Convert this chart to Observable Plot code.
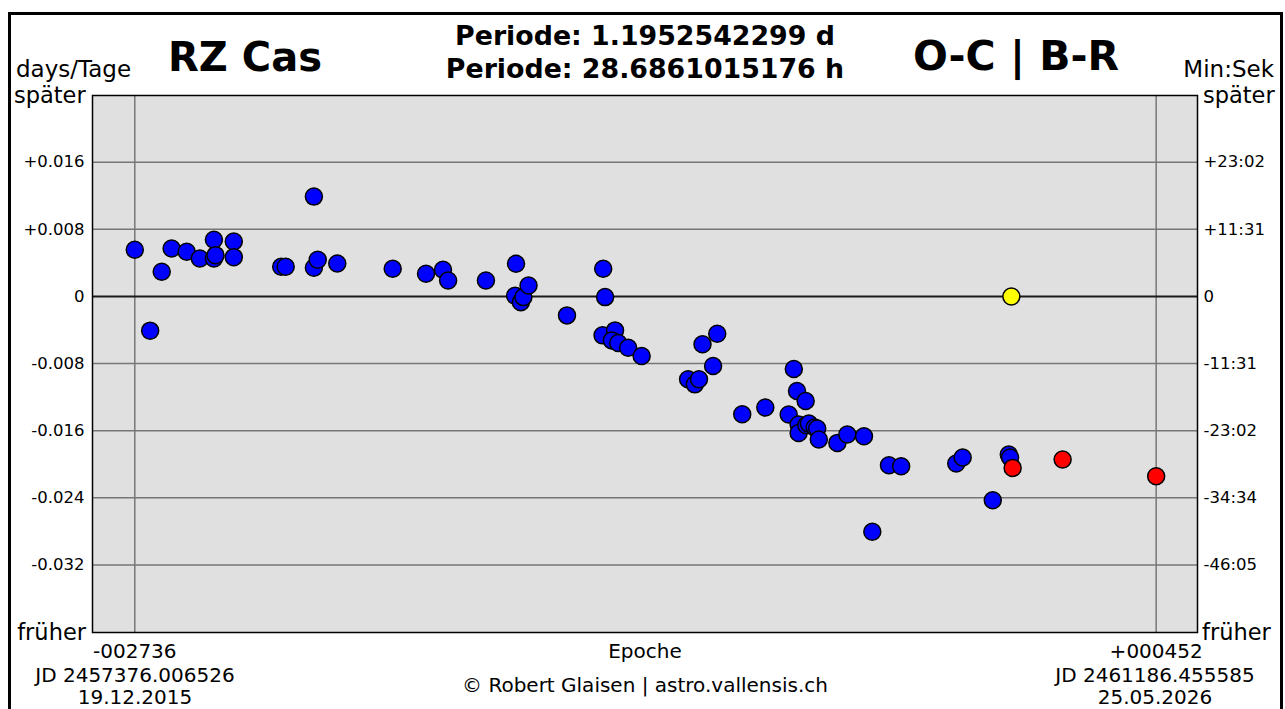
<!DOCTYPE html>
<html>
<head>
<meta charset="utf-8">
<script src="https://cdn.jsdelivr.net/npm/d3@7"></script>
<script src="https://cdn.jsdelivr.net/npm/@observablehq/plot@0.6"></script>
<style>
  html, body { margin: 0; padding: 0; background: #fff; overflow: hidden; }
  #wrap { position: relative; width: 1285px; height: 709px; font-family: "DejaVu Sans", Verdana, sans-serif; color: #000; }
  #border { position: absolute; left: 8px; top: 12px; width: 1269px; height: 720px; border: 3px solid #000; box-sizing: content-box; }
  .t { position: absolute; white-space: nowrap; line-height: 1; }
  .c { transform: translateX(-50%); }
  .r { transform: translateX(-100%); }
  .b { font-weight: bold; }
  #chart { position: absolute; left: 0; top: 0; }
</style>
</head>
<body>
<div id="wrap">
  <div id="border"></div>
  <div id="chart"></div>
</div>
<script>
// ---- data ----
const blueEpoch = [-2736,-2688,-2652,-2621,-2574,-2533,-2489,-2489,-2484,-2427,-2427,-2279,-2265,-2177,-2177,-2165,-2104,-1931,-1827,-1774,-1758,-1640,-1546,-1549,-1531,-1523,-1507,-1387,-1274,-1268,-1276,-1237,-1247,-1227,-1196,-1154,-1009,-988,-975,-964,-918,-931,-840,-768,-679,-669,-642,-695,-664,-664,-640,-632,-614,-606,-601,-543,-512,-460,-382,-344,-434,-172,-152,-58,-8,-4];
const blueOC = [0.00556,-0.00408,0.00294,0.00571,0.00532,0.00452,0.00675,0.00452,0.00492,0.00655,0.00468,0.00354,0.00354,0.0119,0.00342,0.00437,0.00393,0.0033,0.0027,0.00318,0.0019,0.0019,0.00389,0.00008,-0.00068,-0.00008,0.00131,-0.00226,0.0033,-0.00008,-0.00464,-0.00405,-0.00524,-0.00556,-0.00611,-0.00711,-0.00988,-0.01048,-0.00988,-0.00571,-0.00444,-0.0083,-0.01405,-0.01325,-0.00865,-0.01127,-0.01246,-0.01408,-0.01527,-0.01627,-0.01536,-0.01516,-0.01563,-0.01575,-0.01706,-0.01746,-0.01646,-0.01667,-0.02012,-0.02024,-0.02806,-0.01992,-0.0192,-0.02429,-0.01885,-0.0192];
const redEpoch = [4, 160, 452];
const redOC = [-0.02044, -0.01944, -0.02143];
const yellowEpoch = [0];
const yellowOC = [0];

const yTicks = [0.016, 0.008, 0, -0.008, -0.016, -0.024, -0.032];
const xTicks = [-2736, 452];

const titleText = "RZ Cas";
const periodLines = ["Periode: 1.1952542299 d", "Periode: 28.6861015176 h"];
const ocText = "O-C | B-R";
const startJD = "JD 2457376.006526", startDate = "19.12.2015";
const endJD = "JD 2461186.455585", endDate = "25.05.2026";
const credit = "© Robert Glaisen | astro.vallensis.ch";

// ---- build tables ----
const blue = blueEpoch.map((e, i) => ({e, v: blueOC[i]}));
const red = redEpoch.map((e, i) => ({e, v: redOC[i]}));
const yellow = yellowEpoch.map((e, i) => ({e, v: yellowOC[i]}));

const fmtDays = v => v === 0 ? "0" : (v > 0 ? "+" : "-") + Math.abs(v).toFixed(3);
const fmtMinSec = v => {
  if (v === 0) return "0";
  let s = Math.round(Math.abs(v) * 86400);
  const m = Math.floor(s / 60); s = s % 60;
  return (v > 0 ? "+" : "-") + m + ":" + String(s).padStart(2, "0");
};
const fmtEpoch = e => (e < 0 ? "-" : "+") + String(Math.abs(e)).padStart(6, "0");

const W = 1285, H = 709;
const chart = Plot.plot({
  width: W, height: H,
  marginLeft: 92, marginRight: 88, marginTop: 95, marginBottom: 77,
  style: {fontFamily: '"DejaVu Sans", Verdana, sans-serif', background: "transparent", color: "#000"},
  x: {domain: [-2868, 581], axis: null},
  y: {domain: [-0.04006, 0.02395], axis: null},
  marks: [
    Plot.frame({fill: "#e0e0e0", stroke: null}),
    Plot.ruleY(yTicks.filter(d => d !== 0), {stroke: "#777", strokeWidth: 1.5}),
    Plot.ruleX(xTicks, {stroke: "#777", strokeWidth: 1.5}),
    Plot.ruleY([0], {stroke: "#1a1a1a", strokeWidth: 2}),
    Plot.axisY(yTicks, {anchor: "left", tickSize: 0, tickPadding: 8, tickFormat: fmtDays, fontSize: 16.5, label: null}),
    Plot.axisY(yTicks, {anchor: "right", tickSize: 0, tickPadding: 6, tickFormat: fmtMinSec, fontSize: 16.5, label: null}),
    Plot.axisX(xTicks, {anchor: "bottom", tickSize: 0, tickPadding: 11, tickFormat: fmtEpoch, fontSize: 20, label: null}),
    Plot.dot(blue, {x: "e", y: "v", r: 8.5, fill: "#0000ff", stroke: "#000", strokeWidth: 1.5}),
    Plot.dot(red, {x: "e", y: "v", r: 8.5, fill: "#ff0000", stroke: "#000", strokeWidth: 1.5}),
    Plot.dot(yellow, {x: "e", y: "v", r: 8.5, fill: "#ffff00", stroke: "#000", strokeWidth: 1.5}),
    Plot.frame({stroke: "#000", strokeWidth: 1.5})
  ]
});
document.getElementById("chart").appendChild(chart);

// ---- text labels around the plot (HTML) ----
const wrap = document.getElementById("wrap");
function addText(txt, x, baseline, size, cls) {
  const d = document.createElement("div");
  d.className = "t " + (cls || "");
  d.textContent = txt;
  d.style.fontSize = size + "px";
  d.style.left = x + "px";
  d.style.top = (baseline - 0.846 * size) + "px";
  wrap.appendChild(d);
}
addText(titleText, 245, 71, 40, "c b");
addText(periodLines[0], 645, 46, 26.8, "c b");
addText(periodLines[1], 645, 79, 26.8, "c b");
addText(ocText, 1016, 71, 41, "c b");
addText("days/Tage", 16, 77, 23, "");
addText("Min:Sek", 1274, 77, 23, "r");
addText("später", 14, 103, 22.5, "");
addText("später", 1203, 103, 22.5, "");
addText("früher", 86, 640, 22.5, "r");
addText("früher", 1202, 640, 22.5, "");
addText("Epoche", 645, 658, 20, "c");
addText(startJD, 135, 682, 20, "c");
addText(startDate, 135, 704, 20, "c");
addText(credit, 645, 692, 20, "c");
addText(endJD, 1155, 682, 20, "c");
addText(endDate, 1155, 704, 20, "c");
</script>
</body>
</html>
